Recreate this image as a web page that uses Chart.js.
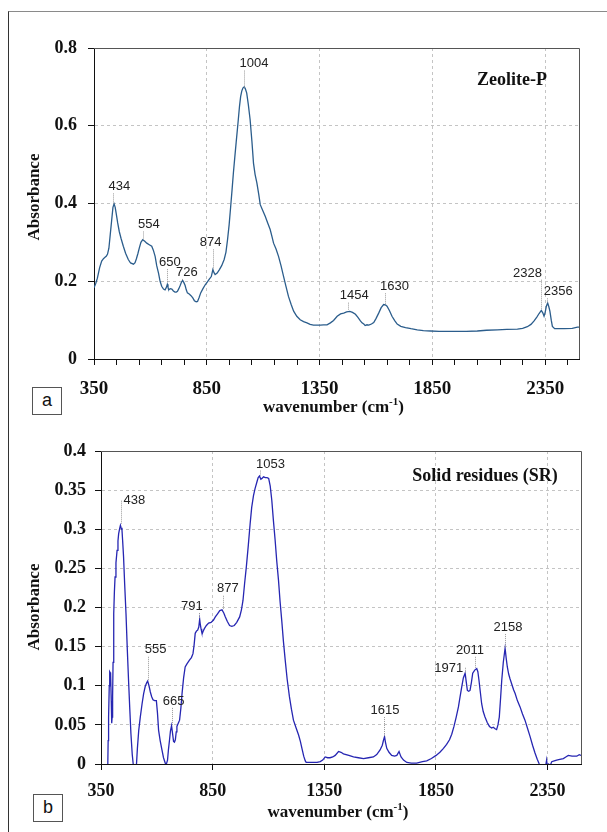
<!DOCTYPE html>
<html>
<head>
<meta charset="utf-8">
<script src="https://cdn.jsdelivr.net/npm/chart.js@4.4.1/dist/chart.umd.min.js"></script>
<style>
  html, body { margin: 0; padding: 0; background: #fff; }
  body { width: 607px; height: 832px; position: relative; overflow: hidden; }
  #frame { position: absolute; left: 8px; top: 11px; width: 700px; height: 900px;
           border-left: 1px solid #333; border-top: 1px solid #8a8a8a; }
  .panel { position: absolute; left: 0; }
  .tag { position: absolute; width: 28px; height: 26px; border: 1px solid #555; background: #fff;
         font: 18px "Liberation Sans", Arial, sans-serif; color: #111; text-align: center; line-height: 25px; }
</style>
</head>
<body>
<div id="frame"></div>
<div class="panel" style="top:0"><canvas id="zeo" width="607" height="420"></canvas></div>
<div class="panel" style="top:420px"><canvas id="sr" width="607" height="412"></canvas></div>
<div class="tag" style="left:32px;top:387px">a</div>
<div class="tag" style="left:33px;top:794px">b</div>

<script>
// ---- (a) Zeolite-P spectrum ----
const zeoWn = [350, 358, 365, 375, 384, 392, 399, 405, 410, 416, 422, 428, 434, 439, 444, 448, 455, 462, 470, 480,
  490, 502, 512, 525, 532, 538, 545, 551, 558, 566, 575, 584, 595, 606, 613, 621, 628, 636, 643, 650,
  658, 665, 670, 675, 678, 681, 688, 695, 702, 709, 715, 720, 726, 732, 738, 743, 748, 754, 759, 764,
  772, 780, 788, 795, 803, 809, 816, 823, 833, 843, 852, 862, 870, 877, 882, 887, 896, 906, 916, 927,
  935, 942, 949, 956, 962, 968, 974, 980, 988, 995, 1000, 1005, 1010, 1016, 1021, 1027, 1034, 1042, 1050, 1057,
  1064, 1072, 1080, 1087, 1098, 1109, 1120, 1131, 1139, 1146, 1157, 1168, 1179, 1190, 1201, 1212, 1224, 1235, 1249, 1264,
  1279, 1294, 1308, 1323, 1338, 1353, 1368, 1383, 1398, 1412, 1428, 1443, 1457, 1470, 1484, 1496, 1509, 1520, 1531, 1538,
  1546, 1552, 1560, 1568, 1580, 1590, 1600, 1612, 1623, 1634, 1642, 1649, 1660, 1671, 1683, 1694, 1710, 1731, 1755, 1783,
  1810, 1842, 1880, 1916, 1960, 2000, 2049, 2090, 2138, 2180, 2227, 2250, 2271, 2287, 2301, 2313, 2323, 2333, 2340, 2345,
  2350, 2355, 2361, 2366, 2371, 2377, 2382, 2392, 2434, 2470, 2493, 2500];
const zeoAbs = [0.183, 0.195, 0.208, 0.235, 0.252, 0.258, 0.262, 0.265, 0.27, 0.285, 0.32, 0.355, 0.39, 0.399, 0.39, 0.376, 0.35, 0.328, 0.31, 0.29,
  0.272, 0.256, 0.247, 0.244, 0.248, 0.258, 0.272, 0.286, 0.3, 0.307, 0.303, 0.298, 0.294, 0.29, 0.28, 0.264, 0.24, 0.221, 0.2, 0.187,
  0.18, 0.178, 0.183, 0.192, 0.185, 0.178, 0.181, 0.18, 0.175, 0.172, 0.172, 0.174, 0.181, 0.189, 0.198, 0.202, 0.197, 0.189, 0.178, 0.17,
  0.167, 0.163, 0.157, 0.15, 0.147, 0.148, 0.158, 0.17, 0.181, 0.191, 0.198, 0.206, 0.212, 0.23, 0.222, 0.217, 0.221, 0.23, 0.24, 0.256,
  0.275, 0.307, 0.345, 0.393, 0.435, 0.479, 0.518, 0.556, 0.605, 0.65, 0.675, 0.689, 0.697, 0.7, 0.695, 0.684, 0.655, 0.616, 0.56, 0.504,
  0.475, 0.453, 0.425, 0.397, 0.382, 0.367, 0.35, 0.333, 0.315, 0.298, 0.283, 0.264, 0.24, 0.213, 0.187, 0.161, 0.14, 0.123, 0.11, 0.101,
  0.096, 0.093, 0.089, 0.087, 0.087, 0.087, 0.088, 0.088, 0.093, 0.099, 0.11, 0.116, 0.118, 0.121, 0.1225, 0.12, 0.115, 0.107, 0.098, 0.093,
  0.09, 0.086, 0.088, 0.087, 0.09, 0.094, 0.104, 0.118, 0.132, 0.14, 0.139, 0.136, 0.124, 0.11, 0.099, 0.09, 0.084, 0.081, 0.078, 0.075,
  0.073, 0.072, 0.071, 0.071, 0.071, 0.071, 0.072, 0.074, 0.075, 0.076, 0.077, 0.079, 0.083, 0.089, 0.098, 0.108, 0.117, 0.125, 0.118, 0.11,
  0.12, 0.135, 0.144, 0.135, 0.123, 0.1, 0.084, 0.078, 0.078, 0.079, 0.082, 0.082];
const zeoXTicks = [350, 450, 550, 650, 750, 850, 950, 1050, 1150, 1250, 1350, 1450, 1550, 1650, 1750, 1850,
  1950, 2050, 2150, 2250, 2350, 2450];
const zeoPeakText = ['434', '554', '650', '726', '874', '1004', '1454', '1630', '2328', '2356'];
const zeoPeakWn = [436, 566, 673, 742, 877, 1013, 1478, 1642, 2333, 2360];
const zeoPeakAbs = [0.399, 0.307, 0.196, 0.202, 0.23, 0.698, 0.124, 0.14, 0.127, 0.145];
const zeoLeadTop = [0.426, 0.328, 0.231, 0.206, 0.282, 0.742, 0.145, 0.169, 0.204, 0.156];
const zeoLabelWn = [462, 593, 686, 762, 867, 1059, 1504, 1682, 2272, 2408];
const zeoLabelAbs = [0.444, 0.346, 0.249, 0.222, 0.30, 0.76, 0.163, 0.187, 0.221, 0.174];

// ---- (b) Solid residues spectrum ----
const srWn = [350, 378, 380, 382, 384, 387, 389, 391, 393, 396, 398, 400, 402, 404, 407, 410, 413, 417, 422, 426,
  429, 433, 437, 440, 444, 447, 451, 456, 462, 468, 474, 479, 484, 490, 496, 502, 508, 513, 519, 526,
  534, 541, 548, 555, 559, 565, 571, 577, 583, 590, 598, 603, 608, 615, 623, 630, 638, 643, 648, 652,
  657, 661, 666, 670, 675, 679, 683, 687, 690, 696, 702, 708, 713, 720, 727, 735, 747, 755, 762, 767,
  772, 778, 783, 788, 792, 795, 798, 801, 804, 808, 813, 822, 832, 843, 854, 862, 872, 882, 892, 900,
  907, 916, 926, 936, 947, 958, 971, 979, 986, 993, 1001, 1010, 1018, 1025, 1033, 1040, 1048, 1054, 1060, 1066,
  1071, 1078, 1086, 1094, 1101, 1108, 1115, 1122, 1130, 1137, 1145, 1152, 1160, 1167, 1175, 1184, 1194, 1203, 1212, 1224,
  1235, 1243, 1250, 1258, 1265, 1269, 1285, 1302, 1318, 1332, 1343, 1354, 1365, 1376, 1388, 1399, 1414, 1425, 1436, 1460,
  1481, 1503, 1526, 1548, 1570, 1585, 1600, 1610, 1615, 1620, 1624, 1630, 1640, 1652, 1665, 1675, 1685, 1690, 1694, 1705,
  1720, 1740, 1764, 1790, 1809, 1830, 1851, 1868, 1884, 1898, 1911, 1921, 1931, 1941, 1951, 1959, 1966, 1973, 1981, 1986,
  1991, 1997, 2003, 2009, 2015, 2024, 2033, 2038, 2043, 2049, 2055, 2062, 2070, 2080, 2090, 2100, 2107, 2115, 2122, 2128,
  2134, 2140, 2145, 2152, 2160, 2165, 2170, 2176, 2182, 2190, 2198, 2205, 2215, 2227, 2238, 2249, 2260, 2272, 2283, 2294,
  2304, 2313, 2325, 2336, 2342, 2346, 2349, 2355, 2362, 2369, 2380, 2391, 2405, 2421, 2432, 2443, 2460, 2481, 2492, 2500];
const srAbs = [-0.05, -0.05, -0.01, 0.03, 0.06, 0.1, 0.118, 0.117, 0.116, 0.08, 0.052, 0.06, 0.086, 0.13, 0.192, 0.22, 0.239, 0.257, 0.273, 0.285,
  0.294, 0.3, 0.305, 0.302, 0.299, 0.285, 0.265, 0.23, 0.192, 0.145, 0.103, 0.07, 0.039, 0.012, -0.005, -0.015, -0.005, 0.02, 0.043, 0.06,
  0.077, 0.09, 0.099, 0.104, 0.106, 0.1, 0.092, 0.086, 0.082, 0.081, 0.081, 0.065, 0.043, 0.03, 0.018, 0.008, 0.001, 0.0, 0.005, 0.018,
  0.031, 0.042, 0.049, 0.04, 0.029, 0.028, 0.031, 0.041, 0.048, 0.052, 0.056, 0.072, 0.09, 0.11, 0.124, 0.128, 0.133, 0.136, 0.141, 0.152,
  0.167, 0.17, 0.171, 0.175, 0.185, 0.178, 0.173, 0.169, 0.167, 0.17, 0.173, 0.177, 0.18, 0.181, 0.184, 0.188, 0.192, 0.196, 0.197, 0.193,
  0.188, 0.182, 0.177, 0.176, 0.177, 0.181, 0.188, 0.197, 0.209, 0.23, 0.252, 0.28, 0.307, 0.328, 0.343, 0.352, 0.36, 0.366, 0.368, 0.364,
  0.365, 0.367, 0.366, 0.366, 0.365, 0.355, 0.337, 0.312, 0.286, 0.26, 0.235, 0.208, 0.182, 0.157, 0.133, 0.108, 0.086, 0.07, 0.056, 0.046,
  0.037, 0.029, 0.02, 0.01, 0.004, 0.002, 0.002, 0.002, 0.002, 0.003, 0.005, 0.009, 0.008, 0.008, 0.009, 0.011, 0.016, 0.015, 0.013, 0.011,
  0.009, 0.008, 0.007, 0.008, 0.009, 0.012, 0.018, 0.024, 0.03, 0.035, 0.028, 0.02, 0.015, 0.011, 0.01, 0.011, 0.016, 0.012, 0.009, 0.005,
  0.002, 0.001, 0.001, 0.003, 0.004, 0.007, 0.011, 0.015, 0.02, 0.025, 0.031, 0.038, 0.048, 0.06, 0.073, 0.087, 0.099, 0.11, 0.116, 0.105,
  0.094, 0.093, 0.094, 0.104, 0.116, 0.12, 0.122, 0.118, 0.107, 0.092, 0.077, 0.067, 0.06, 0.053, 0.048, 0.046, 0.047, 0.045, 0.044, 0.05,
  0.06, 0.085, 0.107, 0.13, 0.148, 0.135, 0.124, 0.115, 0.109, 0.102, 0.095, 0.09, 0.081, 0.073, 0.064, 0.056, 0.046, 0.035, 0.024, 0.014,
  0.006, 0.0, -0.005, -0.005, -0.002, 0.005, -0.003, 0.0, -0.002, 0.003, 0.004, 0.005, 0.006, 0.007, 0.009, 0.011, 0.01, 0.01, 0.012, 0.011];
const srXTicks = [350, 850, 1350, 1850, 2350];
const srPeakText = ['438', '555', '665', '791', '877', '1053', '1615', '1971', '2011', '2158'];
const srPeakWn = [440, 559, 668, 791, 896, 1063, 1619, 1981, 2025, 2160];
const srPeakAbs = [0.306, 0.106, 0.0486, 0.1855, 0.197, 0.3685, 0.0345, 0.116, 0.123, 0.148];
const srLeadTop = [0.3365, 0.137, 0.0717, 0.193, 0.215, 0.375, 0.06, 0.123, 0.137, 0.166];
const srLabelWn = [499, 595, 675, 757, 918, 1109, 1622, 1908, 2003, 2173];
const srLabelAbs = [0.3365, 0.146, 0.08, 0.202, 0.224, 0.3826, 0.068, 0.1225, 0.145, 0.174];

const SERIF = '"Liberation Serif", "Times New Roman", serif';
const SANS = '"Liberation Sans", Arial, sans-serif';

// frame, peak labels and titles drawn on top of the chart
const decorPlugin = {
  id: 'decor',
  afterDatasetsDraw(chart, args, o) {
    const { ctx, chartArea: a, scales: { x, y } } = chart;
    ctx.save();
    // top and right edges of the plot box
    ctx.strokeStyle = '#555';
    ctx.lineWidth = 1;
    ctx.beginPath();
    ctx.moveTo(a.left, a.top + 0.5);
    ctx.lineTo(a.right + 0.5, a.top + 0.5);
    ctx.lineTo(a.right + 0.5, a.bottom);
    ctx.stroke();

    // dotted leaders and peak numbers
    ctx.font = '13px ' + SANS;
    ctx.textAlign = 'center';
    ctx.textBaseline = 'middle';
    o.text.forEach((t, i) => {
      const lx = Math.round(x.getPixelForValue(o.wn[i])) + 0.5;
      ctx.strokeStyle = '#9a9a9a';
      ctx.setLineDash([1, 1]);
      ctx.beginPath();
      ctx.moveTo(lx, y.getPixelForValue(o.lead[i]));
      ctx.lineTo(lx, y.getPixelForValue(o.peak[i]));
      ctx.stroke();
      ctx.fillStyle = '#222';
      ctx.fillText(t, x.getPixelForValue(o.labelWn[i]), y.getPixelForValue(o.labelAbs[i]));
    });
    ctx.setLineDash([]);

    // sample name
    ctx.font = 'bold 18px ' + SERIF;
    ctx.fillStyle = '#111';
    ctx.fillText(o.name, o.nameX, o.nameY);

    // y title
    ctx.save();
    ctx.translate(35, o.yTitleY);
    ctx.rotate(-Math.PI / 2);
    ctx.font = 'bold 17px ' + SERIF;
    ctx.fillText('Absorbance', 0, 0);
    ctx.restore();

    // x title with superscript
    const main = 'wavenumber (cm', sup = '-1', tail = ')';
    ctx.font = 'bold 17px ' + SERIF;
    const w1 = ctx.measureText(main).width, w3 = ctx.measureText(tail).width;
    ctx.font = 'bold 11px ' + SERIF;
    const w2 = ctx.measureText(sup).width;
    let tx = (a.left + a.right) / 2 - 3 - (w1 + w2 + w3) / 2;
    const ty = a.bottom + 53;
    ctx.textAlign = 'left';
    ctx.textBaseline = 'alphabetic';
    ctx.font = 'bold 17px ' + SERIF;
    ctx.fillText(main, tx, ty);
    tx += w1;
    ctx.font = 'bold 11px ' + SERIF;
    ctx.fillText(sup, tx, ty - 7);
    tx += w2;
    ctx.font = 'bold 17px ' + SERIF;
    ctx.fillText(tail, tx, ty);
    ctx.restore();
  }
};

function makeSpectrum(id, cfg) {
  const pts = cfg.wn.map((w, i) => ({ x: w, y: cfg.abs[i] }));
  const isMajor = v => (v - 350) % 500 === 0;
  return new Chart(document.getElementById(id), {
    type: 'line',
    data: {
      datasets: [{
        data: pts,
        borderColor: cfg.color,
        borderWidth: 1.3,
        pointRadius: 0,
        tension: 0,
      }],
    },
    plugins: [decorPlugin],
    options: {
      responsive: false,
      animation: false,
      events: [],
      layout: { padding: { left: 0, top: cfg.top, right: cfg.right, bottom: 0 } },
      plugins: {
        legend: { display: false },
        tooltip: { enabled: false },
        decor: cfg.decor,
      },
      scales: {
        x: {
          type: 'linear',
          min: 350,
          max: 2500,
          afterBuildTicks: s => { s.ticks = cfg.xTicks.map(v => ({ value: v })); },
          afterFit: s => { s.height = cfg.xHeight; },
          ticks: {
            autoSkip: false,
            maxRotation: 0,
            padding: cfg.xPad,
            color: '#111',
            font: { family: SERIF, size: cfg.xFont, weight: 'bold' },
            callback: v => (isMajor(v) ? String(v) : ''),
          },
          grid: {
            color: c => (c.tick && isMajor(c.tick.value) && c.tick.value !== 350 ? '#c4c4c4' : 'rgba(0,0,0,0)'),
            tickColor: '#111',
            tickLength: 6,
          },
          border: { color: '#111', dash: [3, 3] },
        },
        y: {
          min: 0,
          max: cfg.yMax,
          afterFit: s => { s.width = cfg.yWidth; },
          ticks: {
            stepSize: cfg.yStep,
            padding: cfg.yPad,
            color: '#111',
            font: { family: SERIF, size: 18, weight: 'bold' },
            callback: v => String(Number(v.toFixed(2))),
          },
          grid: {
            color: c => (c.tick && c.tick.value > 0 && c.tick.value < cfg.yMax - 1e-9 ? '#c4c4c4' : 'rgba(0,0,0,0)'),
            tickColor: '#111',
            tickLength: 6,
          },
          border: { color: '#111', dash: [3, 3] },
        },
      },
    },
  });
}

makeSpectrum('zeo', {
  wn: zeoWn, abs: zeoAbs, color: '#2b5d8c',
  top: 48, right: 28, xHeight: 61, yWidth: 94, xPad: 13, xFont: 19, yPad: 11,
  yMax: 0.8, yStep: 0.2, xTicks: zeoXTicks,
  decor: {
    text: zeoPeakText, wn: zeoPeakWn, peak: zeoPeakAbs, lead: zeoLeadTop,
    labelWn: zeoLabelWn, labelAbs: zeoLabelAbs,
    name: 'Zeolite-P', nameX: 512, nameY: 80, yTitleY: 197,
  },
});

makeSpectrum('sr', {
  wn: srWn, abs: srAbs, color: '#2626b2',
  top: 31, right: 26, xHeight: 68, yWidth: 101, xPad: 11, xFont: 18, yPad: 9,
  yMax: 0.4, yStep: 0.05, xTicks: srXTicks,
  decor: {
    text: srPeakText, wn: srPeakWn, peak: srPeakAbs, lead: srLeadTop,
    labelWn: srLabelWn, labelAbs: srLabelAbs,
    name: 'Solid residues (SR)', nameX: 485, nameY: 56, yTitleY: 187,
  },
});
</script>
</body>
</html>
